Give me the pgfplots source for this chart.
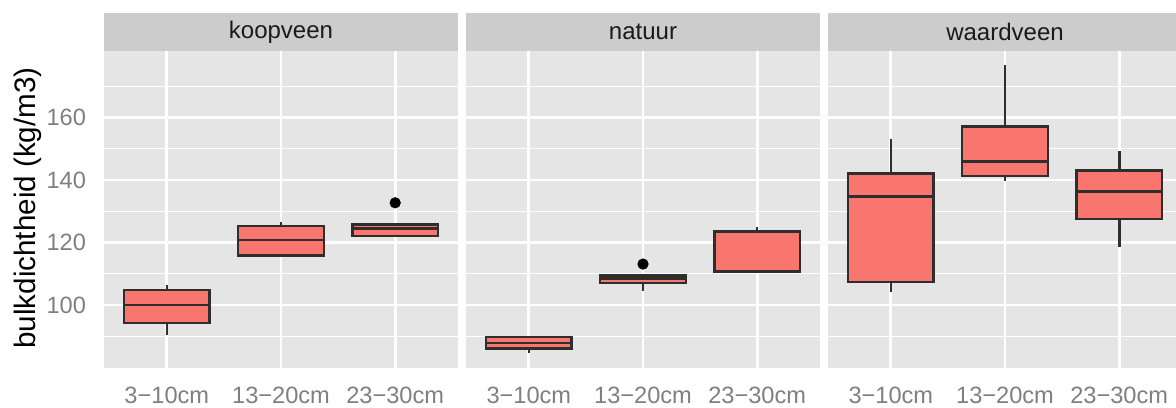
\documentclass[border=0pt]{standalone}
\usepackage{fontspec}
\setmainfont{Liberation Sans}
\usepackage{pgfplots}
\pgfplotsset{compat=1.18}

\definecolor{panelbg}{HTML}{E5E5E5}
\definecolor{stripbg}{HTML}{CCCCCC}
\definecolor{boxfill}{HTML}{F8766D}
\definecolor{boxline}{HTML}{2E2E2E}
\definecolor{ticktext}{HTML}{7F7F7F}
\definecolor{striptext}{HTML}{1A1A1A}

\pgfplotsset{
  facet/.style={
    scale only axis, width=177pt, height=158.5pt,
    anchor=south west,
    xmin=0.45, xmax=3.55, ymin=79.84, ymax=181.28,
    axis background/.style={fill=panelbg},
    axis line style={draw=none},
    xtick={1,2,3}, xticklabels={3−10cm,13−20cm,23−30cm},
    ytick={100,120,140,160}, minor ytick={90,110,130,150,170},
    xmajorgrids=true, ymajorgrids=true, yminorgrids=true,
    major grid style={white, line width=1.35pt},
    minor grid style={white, line width=0.55pt},
    tick pos=left, tick align=outside,
    major tick length=4pt, minor tick length=0pt,
    tick style={draw=none},
    ticklabel style={font=\fontsize{11.8}{13}\selectfont, text=ticktext},
    xticklabel style={yshift=-2pt},
    yticklabel style={xshift=-1.5pt},
    /pgf/number format/assume math mode=true,
  },
  whisk/.style={boxline, line width=1.3pt, forget plot},
  boxbody/.style={draw=boxline, fill=boxfill, line width=1.3pt, forget plot},
  outlier/.style={only marks, mark=*, mark size=2.6pt, black, forget plot},
}

% One box: #1 position, #2 lower whisker, #3 lower quartile, #4 median,
% #5 upper quartile, #6 upper whisker (box half-width 0.375)
\newcommand\gbox[6]{%
  \pgfmathsetmacro\bl{#1-0.375}%
  \pgfmathsetmacro\br{#1+0.375}%
  \addplot[whisk] coordinates {(#1,#2) (#1,#3)};
  \addplot[whisk] coordinates {(#1,#5) (#1,#6)};
  \addplot[boxbody] coordinates {(\bl,#3) (\br,#3) (\br,#5) (\bl,#5)} -- cycle;
  \addplot[whisk] coordinates {(\bl,#4) (\br,#4)};
}

\begin{document}
\begin{tikzpicture}

% koopveen
\begin{axis}[facet, at={(52pt,19.5pt)}]
  \gbox{1}{90.4}{94.3}{100.0}{104.8}{106.4}
  \gbox{2}{115.3}{115.8}{120.8}{125.3}{126.7}
  \gbox{3}{121.7}{122.1}{124.5}{125.8}{126.2}
  \addplot[outlier] coordinates {(3,132.7)};
\end{axis}

% natuur
\begin{axis}[facet, at={(233pt,19.5pt)}, yticklabels={}]
  \gbox{1}{84.5}{86.1}{87.9}{89.7}{90.1}
  \gbox{2}{104.5}{107.1}{108.4}{109.5}{109.5}
  \gbox{3}{110.7}{110.7}{123.5}{123.7}{125.1}
  \addplot[outlier] coordinates {(2,113.1)};
\end{axis}

% waardveen
\begin{axis}[facet, at={(414pt,19.5pt)}, yticklabels={}]
  \gbox{1}{104.1}{107.3}{134.7}{142.0}{153.0}
  \gbox{2}{139.7}{141.3}{145.9}{157.1}{176.8}
  \gbox{3}{118.7}{127.5}{136.3}{143.0}{149.4}
\end{axis}

% facet strips
\foreach \x/\lab in {52/koopveen, 233/natuur, 414/waardveen}{
  \fill[stripbg] (\x pt,178pt) rectangle ({\x pt+177pt},197pt);
  \node[text=striptext, font=\fontsize{12}{14}\selectfont, inner sep=0pt]
    at ({\x pt+88.5pt},187.5pt) {\lab};
}

% y axis title
\node[rotate=90, font=\fontsize{14.8}{16}\selectfont, inner sep=0pt] at (14pt,99.5pt) {bulkdichtheid (kg/m3)};

\pgfresetboundingbox
\useasboundingbox (0,0) rectangle (588pt,203.5pt);
\end{tikzpicture}
\end{document}
